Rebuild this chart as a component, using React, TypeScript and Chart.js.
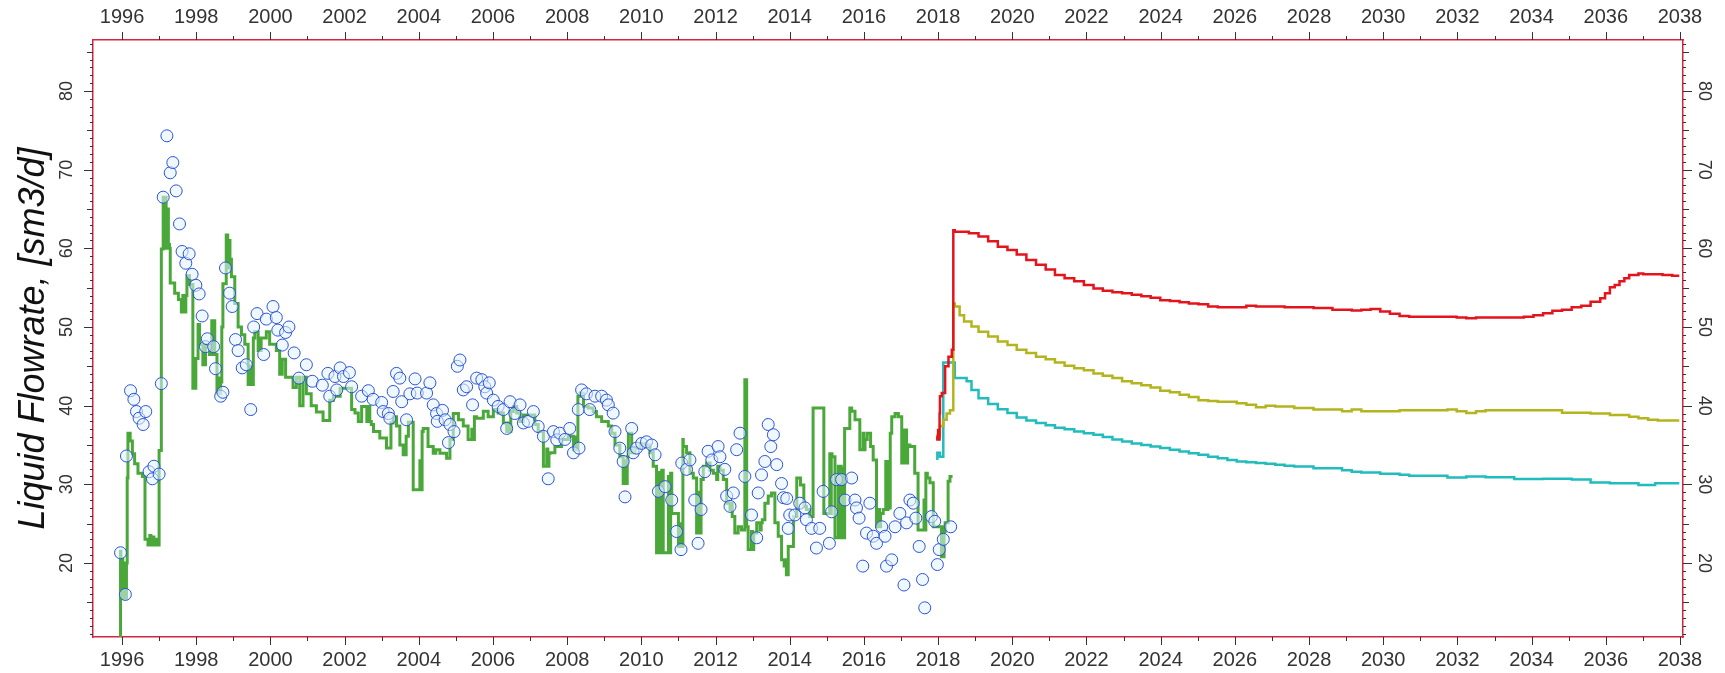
import React, { useEffect, useRef } from 'react';
import { Chart, registerables } from 'chart.js';

Chart.register(...registerables);

// ---- axis ranges & tick labels ----
const X_MIN = 1995.218;
const X_MAX = 2038.081;
const Y_MIN = 10.59;
const Y_MAX = 86.48;
const xTickLabels = [1996, 1998, 2000, 2002, 2004, 2006, 2008, 2010, 2012, 2014, 2016, 2018, 2020, 2022, 2024, 2026, 2028, 2030, 2032, 2034, 2036, 2038];
const yTickLabels = [20, 30, 40, 50, 60, 70, 80];
const yTitle = 'Liquid Flowrate, [sm3/d]';

// ---- history (simulated, green step line) [year, rate] ----
const histSeries: [number, number][] = [
  [1995.96, 10], [1995.97, 21.5], [1996.0, 15.5], [1996.02, 20.5], [1996.04, 15.5], [1996.06, 20], [1996.08, 15.5], [1996.1, 19.5], [1996.12, 15.5], [1996.14, 20],
  [1996.16, 30.8], [1996.22, 36.5], [1996.28, 35.5], [1996.34, 33.9], [1996.43, 32.6], [1996.55, 31.4], [1996.62, 31.0], [1996.7, 23.0], [1996.75, 22.3], [1996.78, 23.5], [1996.82, 22.3], [1996.86, 23.3], [1996.9, 22.3], [1996.95, 23.0], [1997.0, 22.3],
  [1997.06, 34.3], [1997.11, 59.9], [1997.19, 66.5], [1997.22, 60], [1997.25, 65], [1997.28, 60.5], [1997.3, 60.0], [1997.42, 55.6], [1997.52, 54.3], [1997.6, 53.5], [1997.64, 51.9], [1997.68, 54], [1997.72, 51.9], [1997.75, 54], [1997.82, 56.5], [1997.91, 55.4],
  [1997.99, 42.2], [1998.05, 46], [1998.09, 50.3], [1998.18, 47.8], [1998.25, 45.2], [1998.36, 47.8], [1998.42, 46.5], [1998.5, 50.8], [1998.56, 46.5], [1998.61, 41.7], [1998.63, 43.5], [1998.66, 41.5], [1998.69, 43], [1998.72, 50.0], [1998.81, 55.5], [1998.85, 61.7], [1998.88, 57.5], [1998.91, 61], [1998.95, 58.6],
  [1999.04, 56.4], [1999.13, 53.0], [1999.22, 50.0], [1999.31, 49.0], [1999.4, 47.8], [1999.46, 42.7], [1999.5, 45], [1999.54, 42.7], [1999.58, 48.6], [1999.67, 49.4], [1999.75, 47.0], [1999.89, 48.6], [1999.98, 49.4],
  [2000.16, 47.8], [2000.25, 47.0], [2000.32, 44.0], [2000.41, 45.9], [2000.61, 43.6], [2000.7, 42.3], [2000.79, 43.6], [2000.88, 40.0], [2000.97, 43.6], [2001.1, 41.5], [2001.24, 40.0], [2001.42, 39.2], [2001.6, 38.1],
  [2001.7, 40.7], [2001.88, 41.2], [2002.19, 42.2], [2002.28, 39.5], [2002.37, 39.05], [2002.46, 38.0], [2002.6, 39.9], [2002.64, 38], [2002.68, 39.9], [2002.72, 38.0], [2002.78, 37.6], [2002.95, 36.7],
  [2003.13, 35.9], [2003.25, 34.6], [2003.31, 37.8], [2003.4, 38.6], [2003.49, 37.4], [2003.58, 35.0], [2003.66, 33.75], [2003.72, 36.1], [2003.85, 37.9], [2004.03, 29.3], [2004.06, 33], [2004.09, 29.3], [2004.12, 36.7],
  [2004.25, 37.1], [2004.39, 34.8], [2004.46, 33.96], [2004.57, 34.4], [2004.75, 33.96], [2004.84, 33.3], [2004.93, 35.7], [2005.07, 39.0], [2005.2, 38.2], [2005.33, 37.4], [2005.43, 35.7], [2005.47, 37], [2005.5, 35.7],
  [2005.56, 38.6], [2005.74, 38.4], [2005.87, 39.3], [2006.01, 38.6], [2006.14, 39.5], [2006.28, 39.05], [2006.37, 37.8], [2006.4, 36.7], [2006.44, 37.8], [2006.48, 36.7], [2006.55, 39.25], [2006.64, 39.9], [2006.73, 39.05], [2006.82, 38.0],
  [2007.13, 38.8], [2007.22, 37.6], [2007.36, 36.7], [2007.45, 32.3], [2007.48, 34.5], [2007.51, 32.3], [2007.54, 33.96], [2007.67, 34.0], [2007.85, 34.8], [2008.03, 35.7], [2008.17, 36.1], [2008.21, 34.4], [2008.25, 36], [2008.29, 34.4],
  [2008.35, 41.2], [2008.44, 41.6], [2008.57, 39.9], [2008.7, 39.7], [2008.79, 39.25], [2008.93, 38.6], [2009.11, 38.0], [2009.2, 37.4], [2009.29, 36.5], [2009.42, 35.0], [2009.51, 33.5], [2009.56, 30.1], [2009.59, 33], [2009.62, 30.1], [2009.65, 33.5],
  [2009.74, 36.5], [2009.83, 34.0], [2009.96, 34.6], [2010.1, 35.2], [2010.23, 35.0], [2010.32, 34.0], [2010.41, 32.3], [2010.46, 21.3], [2010.49, 31.5], [2010.52, 21.3], [2010.55, 31.5], [2010.59, 31.8],
  [2010.73, 21.3], [2010.76, 31], [2010.79, 21.3], [2010.82, 31.4], [2011.0, 26.3], [2011.07, 22.1], [2011.1, 25], [2011.12, 22.1], [2011.13, 35.7], [2011.22, 34.8], [2011.31, 34.0], [2011.4, 31.4], [2011.49, 30.8],
  [2011.55, 23.8], [2011.58, 29], [2011.61, 23.8], [2011.67, 30.6], [2011.76, 32.3], [2011.85, 32.7], [2011.94, 31.8], [2012.03, 31.4], [2012.06, 30.6], [2012.12, 32.3], [2012.21, 31.8], [2012.3, 30.6],
  [2012.39, 27.6], [2012.42, 26.8], [2012.45, 27.6], [2012.52, 25.9], [2012.61, 23.8], [2012.7, 24.6], [2012.79, 24.2], [2012.84, 43.3], [2012.88, 24.6], [2012.97, 21.7], [2013.0, 24], [2013.03, 21.7],
  [2013.11, 23.8], [2013.2, 25.1], [2013.23, 24.2], [2013.26, 25.1], [2013.33, 25.5], [2013.42, 27.6], [2013.51, 28.5], [2013.6, 28.9], [2013.69, 25.1], [2013.78, 23.4], [2013.85, 20.4], [2013.88, 19.6], [2013.91, 20.4], [2013.96, 18.5],
  [2014.1, 22.1], [2014.19, 25.9], [2014.29, 30.8], [2014.38, 29.9], [2014.45, 27.2], [2014.54, 26.8], [2014.63, 25.9], [2014.92, 39.7], [2015.08, 26.3], [2015.1, 33.9], [2015.12, 26.3], [2015.14, 33.9], [2015.22, 33.5],
  [2015.31, 23.2], [2015.33, 32.3], [2015.36, 23.2], [2015.39, 32.3], [2015.42, 23.2], [2015.45, 32], [2015.48, 23.2], [2015.62, 37.1], [2015.67, 39.7], [2015.76, 39.3], [2015.89, 38.2], [2015.98, 34.4], [2016.0, 36.5], [2016.03, 34.4],
  [2016.09, 35.7], [2016.18, 36.5], [2016.25, 34.8], [2016.34, 33.1], [2016.39, 24.6], [2016.42, 26.8], [2016.45, 24.6], [2016.52, 26.3], [2016.59, 26.8], [2016.62, 32.9], [2016.65, 26.8], [2016.68, 32.9], [2016.71, 27],
  [2016.75, 36.5], [2016.84, 38.6], [2016.93, 39.0], [2017.02, 38.6], [2017.06, 32.7], [2017.09, 36.9], [2017.12, 32.7], [2017.15, 36.9], [2017.18, 32.7], [2017.24, 35.0], [2017.37, 34.8], [2017.46, 31.4],
  [2017.62, 24.2], [2017.64, 28], [2017.67, 24.2], [2017.71, 31.4], [2017.78, 30.8], [2017.87, 30.2], [2018.09, 24.6], [2018.11, 20.8], [2018.13, 24.6], [2018.16, 20.8], [2018.19, 24], [2018.27, 25.1], [2018.32, 30.4], [2018.39, 31.0],
];

// ---- observed rates (blue circles) [year, rate] ----
const obsSeries: [number, number][] = [
  [1995.96, 21.3], [1996.09, 16.0], [1996.12, 33.6], [1996.23, 41.9], [1996.32, 40.8], [1996.39, 39.25], [1996.46, 38.4], [1996.57, 37.6], [1996.64, 39.25], [1996.73, 31.6], [1996.82, 30.7], [1996.86, 32.3],
  [1997.0, 31.3], [1997.06, 42.8], [1997.11, 66.5], [1997.21, 74.3], [1997.3, 69.6], [1997.37, 70.9], [1997.46, 67.3], [1997.55, 63.1], [1997.62, 59.6], [1997.72, 58.1], [1997.81, 59.3], [1997.89, 56.7], [1997.99, 55.3],
  [1998.08, 54.2], [1998.16, 51.4], [1998.25, 47.5], [1998.3, 48.5], [1998.47, 47.5], [1998.52, 44.7], [1998.66, 41.2], [1998.72, 41.7], [1998.79, 57.5], [1998.9, 54.3], [1998.97, 52.6],
  [1999.06, 48.4], [1999.13, 47.0], [1999.24, 44.8], [1999.35, 45.2], [1999.47, 39.5], [1999.55, 50.0], [1999.64, 51.7], [1999.82, 46.5], [1999.89, 51.0],
  [2000.07, 52.6], [2000.16, 51.2], [2000.2, 49.6], [2000.32, 47.7], [2000.41, 49.3], [2000.5, 50.0], [2000.64, 46.7], [2000.77, 43.5], [2000.97, 45.2], [2001.13, 43.1], [2001.4, 42.6], [2001.55, 44.1], [2001.6, 41.2],
  [2001.74, 43.7], [2001.79, 42.0], [2001.88, 44.8], [2001.97, 43.7], [2002.13, 44.2], [2002.19, 42.4], [2002.46, 41.2], [2002.64, 41.9], [2002.77, 40.8], [2003.0, 40.4], [2003.04, 39.25], [2003.18, 39.0], [2003.22, 38.4],
  [2003.31, 41.8], [2003.4, 44.1], [2003.49, 43.5], [2003.54, 40.5], [2003.67, 38.2], [2003.76, 41.5], [2003.9, 43.4], [2003.96, 41.6], [2004.21, 41.6], [2004.3, 42.9], [2004.39, 40.1], [2004.48, 39.0], [2004.5, 38.0],
  [2004.64, 39.4], [2004.71, 38.2], [2004.8, 35.3], [2004.84, 37.6], [2004.95, 36.7], [2005.04, 45.0], [2005.11, 45.8], [2005.2, 42.0], [2005.29, 42.4], [2005.45, 40.1], [2005.56, 43.5], [2005.7, 43.3], [2005.78, 42.4],
  [2005.83, 41.6], [2005.9, 42.9], [2006.01, 40.7], [2006.14, 39.9], [2006.28, 39.5], [2006.37, 37.1], [2006.46, 40.5], [2006.59, 39.0], [2006.73, 40.1], [2006.82, 37.8], [2006.95, 38.0], [2007.09, 39.25], [2007.22, 37.35],
  [2007.36, 36.1], [2007.49, 30.7], [2007.63, 36.7], [2007.72, 35.65], [2007.8, 36.5], [2007.94, 35.7], [2008.07, 37.1], [2008.17, 34.0], [2008.3, 39.5], [2008.32, 34.6], [2008.39, 42.0], [2008.52, 41.5], [2008.61, 39.5],
  [2008.75, 41.2], [2008.93, 41.2], [2009.06, 40.7], [2009.11, 40.1], [2009.24, 39.05], [2009.29, 36.7], [2009.42, 34.6], [2009.51, 32.9], [2009.56, 28.4], [2009.74, 37.1], [2009.78, 34.0], [2009.87, 34.6],
  [2010.01, 35.2], [2010.14, 35.4], [2010.28, 35.0], [2010.37, 33.75], [2010.46, 29.1], [2010.64, 29.7], [2010.82, 28.0], [2010.95, 24.0], [2011.07, 21.7], [2011.09, 32.7], [2011.22, 31.9], [2011.31, 33.1],
  [2011.44, 28.0], [2011.53, 22.5], [2011.61, 26.8], [2011.71, 31.6], [2011.8, 34.2], [2011.9, 33.1], [2012.07, 34.8], [2012.12, 33.5], [2012.25, 31.9], [2012.3, 28.5], [2012.39, 27.2], [2012.48, 28.9],
  [2012.57, 34.4], [2012.66, 36.5], [2012.79, 31.0], [2012.97, 26.1], [2013.11, 23.2], [2013.15, 28.9], [2013.24, 31.2], [2013.33, 32.9], [2013.42, 37.6], [2013.49, 34.8], [2013.56, 36.3], [2013.65, 32.5],
  [2013.78, 30.1], [2013.83, 28.3], [2013.92, 28.2], [2013.96, 24.4], [2014.0, 26.1], [2014.14, 26.1], [2014.27, 27.6], [2014.41, 27.0], [2014.45, 25.5], [2014.59, 24.4], [2014.72, 21.9], [2014.81, 24.4], [2014.9, 29.1],
  [2015.07, 22.5], [2015.13, 26.5], [2015.26, 30.6], [2015.4, 30.6], [2015.49, 28.0], [2015.67, 30.8], [2015.76, 28.0], [2015.8, 27.0], [2015.87, 25.7], [2015.97, 19.6], [2016.07, 23.8], [2016.16, 27.6],
  [2016.25, 23.4], [2016.34, 22.5], [2016.48, 24.6], [2016.57, 23.4], [2016.61, 19.6], [2016.75, 20.4], [2016.84, 24.6], [2016.97, 26.3], [2017.08, 17.2], [2017.15, 25.1], [2017.24, 28.0], [2017.33, 27.6],
  [2017.4, 25.7], [2017.49, 22.1], [2017.58, 17.9], [2017.64, 14.3], [2017.82, 25.9], [2017.91, 25.3], [2017.98, 19.8], [2018.03, 21.7], [2018.14, 23.0], [2018.34, 24.6],
];

// ---- forecasts [year, rate] ----
const highSeries: [number, number][] = [
  [2017.98, 36.1], [2018.0, 35.7], [2018.02, 36.9], [2018.04, 35.7], [2018.05, 39.0], [2018.1, 41.2], [2018.19, 41.6], [2018.28, 45.0], [2018.37, 46.2], [2018.41, 47.1],
  [2018.45, 62.3], [2018.83, 62.1], [2019.09, 61.9], [2019.35, 61.5], [2019.61, 60.9], [2019.87, 60.2], [2020.12, 59.8], [2020.38, 59.2], [2020.64, 58.5], [2020.9, 57.9],
  [2021.15, 57.3], [2021.41, 56.6], [2021.67, 56.2], [2021.93, 55.8], [2022.19, 55.35], [2022.44, 54.9], [2022.7, 54.6], [2022.96, 54.4], [2023.22, 54.3], [2023.48, 54.1],
  [2023.73, 53.9], [2023.99, 53.7], [2024.25, 53.4], [2024.51, 53.3], [2024.76, 53.15], [2025.02, 53.0], [2025.28, 52.9], [2025.54, 52.6], [2026.31, 52.5], [2026.57, 52.7],
  [2027.34, 52.6], [2028.12, 52.5], [2028.63, 52.4], [2029.15, 52.2], [2029.41, 52.1], [2029.66, 52.2], [2029.92, 52.3], [2030.18, 51.96], [2030.44, 51.67], [2030.7, 51.4],
  [2031.98, 51.3], [2032.24, 51.2], [2032.5, 51.1], [2033.79, 51.2], [2034.05, 51.3], [2034.31, 51.5], [2034.56, 51.75], [2034.82, 52.05], [2035.08, 52.2], [2035.34, 52.5],
  [2035.59, 52.7], [2035.85, 53.2], [2035.98, 53.65], [2036.11, 54.3], [2036.24, 55.05], [2036.37, 55.35], [2036.5, 55.8], [2036.63, 56.2], [2036.88, 56.6], [2037.01, 56.8],
  [2037.53, 56.7], [2037.79, 56.6], [2037.98, 56.5],
];
const midSeries: [number, number][] = [
  [2017.98, 35.7], [2018.05, 36.2], [2018.14, 37.4], [2018.23, 38.2], [2018.32, 39.0], [2018.41, 39.4], [2018.45, 53.0], [2018.58, 52.6], [2018.7, 51.5], [2018.9, 50.7],
  [2019.09, 50.05], [2019.35, 49.4], [2019.61, 48.8], [2019.87, 48.15], [2020.12, 47.7], [2020.38, 47.1], [2020.64, 46.7], [2020.9, 46.2], [2021.15, 45.9], [2021.41, 45.5],
  [2021.67, 45.06], [2021.93, 44.76], [2022.19, 44.5], [2022.44, 44.1], [2022.7, 43.8], [2022.96, 43.5], [2023.22, 43.1], [2023.48, 42.85], [2023.73, 42.6], [2023.99, 42.3],
  [2024.25, 41.9], [2024.51, 41.7], [2024.76, 41.4], [2025.02, 41.1], [2025.28, 40.7], [2025.54, 40.6], [2026.05, 40.5], [2026.31, 40.3], [2026.57, 40.1], [2026.83, 39.8],
  [2027.09, 40.0], [2027.6, 39.9], [2028.12, 39.7], [2028.89, 39.5], [2029.15, 39.3], [2029.41, 39.5], [2030.44, 39.3], [2031.73, 39.4], [2031.98, 39.5], [2032.24, 39.3],
  [2032.5, 39.05], [2032.76, 39.3], [2034.82, 39.4], [2035.59, 39.1], [2036.11, 39.0], [2036.63, 38.8], [2036.88, 38.6], [2037.14, 38.4], [2037.4, 38.2], [2037.66, 38.1], [2037.98, 38.1],
];
const lowSeries: [number, number][] = [
  [2017.98, 33.1], [2018.05, 34.0], [2018.14, 33.5], [2018.45, 45.5], [2018.77, 43.5], [2018.9, 43.1], [2019.09, 42.0], [2019.35, 40.95], [2019.61, 40.2], [2019.87, 39.55],
  [2020.12, 39.05], [2020.38, 38.5], [2020.64, 38.1], [2020.9, 37.8], [2021.15, 37.5], [2021.41, 37.2], [2021.67, 37.0], [2021.93, 36.7], [2022.19, 36.5], [2022.44, 36.3],
  [2022.7, 36.0], [2022.96, 35.7], [2023.22, 35.45], [2023.48, 35.2], [2023.73, 35.0], [2023.99, 34.8], [2024.25, 34.6], [2024.51, 34.4], [2024.76, 34.17], [2025.02, 33.96],
  [2025.28, 33.75], [2025.54, 33.5], [2025.8, 33.3], [2026.05, 33.1], [2026.31, 32.9], [2026.57, 32.8], [2026.83, 32.7], [2027.09, 32.6], [2027.34, 32.5], [2027.6, 32.35],
  [2028.12, 32.27], [2028.89, 32.05], [2029.15, 31.8], [2029.41, 31.6], [2029.92, 31.5], [2030.44, 31.35], [2030.7, 31.2], [2031.73, 31.08], [2032.24, 30.87], [2032.76, 31.0],
  [2033.53, 30.9], [2034.31, 30.66], [2035.08, 30.7], [2035.59, 30.6], [2036.11, 30.23], [2036.88, 30.15], [2037.33, 29.9], [2037.53, 30.15], [2037.98, 30.15],
];

const FONT = '"Liberation Sans", Arial, sans-serif';
const BORDER_RED = '#d4243f';

const toXY = (s: [number, number][]) => s.map(([x, y]) => ({ x, y }));

const decorPlugin = {
  id: 'axisDecor',
  afterDraw(chart: any) {
    const { ctx, chartArea: a, scales } = chart;
    const xs = scales.x;
    const ys = scales.y;
    ctx.save();
    ctx.strokeStyle = '#333';
    ctx.lineWidth = 1;
    ctx.beginPath();
    for (let yr = Math.ceil(X_MIN); yr <= X_MAX; yr++) {
      const px = Math.round(xs.getPixelForValue(yr)) + 0.5;
      const len = yr % 2 === 0 ? 8 : 4;
      ctx.moveTo(px, a.bottom);
      ctx.lineTo(px, a.bottom + len);
      ctx.moveTo(px, a.top);
      ctx.lineTo(px, a.top - len);
    }
    for (let v = Math.ceil(Y_MIN); v <= Y_MAX; v++) {
      const py = Math.round(ys.getPixelForValue(v)) + 0.5;
      const len = v % 10 === 0 ? 9 : v % 5 === 0 ? 6 : 3;
      ctx.moveTo(a.left, py);
      ctx.lineTo(a.left - len, py);
      ctx.moveTo(a.right, py);
      ctx.lineTo(a.right + len, py);
    }
    ctx.stroke();
    ctx.fillStyle = '#333';
    ctx.font = `18px ${FONT}`;
    ctx.textAlign = 'center';
    ctx.textBaseline = 'middle';
    for (const v of yTickLabels) {
      const py = ys.getPixelForValue(v);
      ctx.save();
      ctx.translate(a.left - 26, py);
      ctx.rotate(-Math.PI / 2);
      ctx.fillText(String(v), 0, 0);
      ctx.restore();
      ctx.save();
      ctx.translate(a.right + 21, py);
      ctx.rotate(Math.PI / 2);
      ctx.fillText(String(v), 0, 0);
      ctx.restore();
    }
    ctx.restore();
  },
};

export default function App() {
  const ref = useRef<HTMLCanvasElement | null>(null);

  useEffect(() => {
    if (!ref.current) return;
    const xTickOpts = {
      stepSize: 1,
      autoSkip: false,
      maxRotation: 0,
      minRotation: 0,
      includeBounds: false,
      padding: 3,
      color: '#333',
      font: { family: FONT, size: 20 },
      callback: (v: any) => (xTickLabels.includes(Number(v)) ? String(v) : ''),
    };
    const border = { display: true, color: BORDER_RED, width: 1.5 };
    const chart = new Chart(ref.current, {
      type: 'line',
      data: {
        datasets: [
          {
            type: 'scatter',
            label: 'Observed',
            data: toXY(obsSeries),
            showLine: false,
            pointRadius: 6,
            pointBorderWidth: 1,
            pointBorderColor: '#2a52d6',
            pointBackgroundColor: 'rgba(225,242,255,0.55)',
            order: 0,
          } as any,
          {
            label: 'History',
            data: toXY(histSeries),
            stepped: 'after',
            borderColor: '#4aa83a',
            borderWidth: 3,
            pointRadius: 0,
            fill: false,
            clip: 0,
            order: 1,
          },
          {
            label: 'High',
            data: toXY(highSeries),
            stepped: 'after',
            borderColor: '#e3141c',
            borderWidth: 2.5,
            pointRadius: 0,
            fill: false,
            order: 2,
          },
          {
            label: 'Mid',
            data: toXY(midSeries),
            stepped: 'after',
            borderColor: '#b4b41e',
            borderWidth: 2.5,
            pointRadius: 0,
            fill: false,
            order: 2,
          },
          {
            label: 'Low',
            data: toXY(lowSeries),
            stepped: 'after',
            borderColor: '#22bcbc',
            borderWidth: 2.5,
            pointRadius: 0,
            fill: false,
            order: 2,
          },
        ],
      },
      options: {
        animation: false,
        responsive: true,
        maintainAspectRatio: false,
        layout: { padding: 0 },
        plugins: { legend: { display: false }, tooltip: { enabled: false } },
        scales: {
          x: {
            type: 'linear',
            position: 'bottom',
            min: X_MIN,
            max: X_MAX,
            grid: { display: false, drawTicks: true, tickLength: 8 },
            border,
            ticks: xTickOpts,
            afterFit: (s: any) => { s.height = 36; },
          },
          x2: {
            type: 'linear',
            position: 'top',
            min: X_MIN,
            max: X_MAX,
            grid: { display: false, drawTicks: true, tickLength: 8 },
            border,
            ticks: xTickOpts,
            afterFit: (s: any) => { s.height = 40; },
          },
          y: {
            type: 'linear',
            position: 'left',
            min: Y_MIN,
            max: Y_MAX,
            grid: { display: false },
            border,
            ticks: { display: false },
            title: {
              display: true,
              text: yTitle,
              color: '#111',
              font: { family: FONT, size: 36, style: 'italic' },
              padding: { top: 12, bottom: 0 },
            },
            afterFit: (s: any) => { s.width = 93; },
          },
          y2: {
            type: 'linear',
            position: 'right',
            min: Y_MIN,
            max: Y_MAX,
            grid: { display: false },
            border,
            ticks: { display: false },
            afterFit: (s: any) => { s.width = 42; },
          },
        },
      } as any,
      plugins: [decorPlugin],
    });
    return () => chart.destroy();
  }, []);

  return (
    <div style={{ position: 'fixed', left: 0, top: 0, width: '1725px', height: '673px', background: '#fff' }}>
      <canvas ref={ref} />
    </div>
  );
}
